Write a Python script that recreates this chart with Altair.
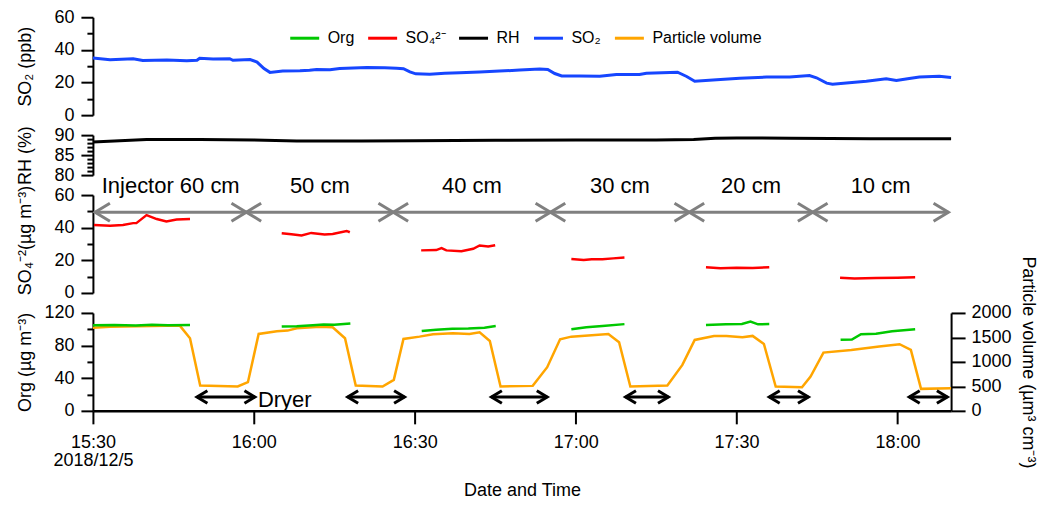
import altair as alt
import pandas as pd

BASE = pd.Timestamp("2018-12-05 15:30:00")

# ---------------- data (time = minutes after 2018/12/5 15:30) ----------------
so2_t = [0, 3.2, 7.5, 9.3, 13.8, 17.5, 19.4, 19.9, 22.4, 25.5, 26.1, 29.3, 30.6, 31.9, 33, 35.4,
         38.6, 40.4, 41.7, 44.2, 46, 51.1, 54.4, 56.6, 57.9, 59.1, 60.2, 62.8, 65.6, 68.4, 72.1,
         75.8, 79.6, 83.3, 84.8, 86.1, 87.4, 90.7, 94.5, 97.6, 101.9, 103.2, 109, 110.7, 112.2,
         116.3, 120.6, 125.6, 129.9, 133.6, 134.9, 136.8, 137.9, 141, 144.2, 147.9, 149.8, 152.2,
         154.1, 157.8, 160]
so2_v = [35, 34, 34.6, 33.5, 33.8, 33.4, 33.6, 34.8, 34.4, 34.6, 33.6, 34.1, 32.5, 28.5, 26.2, 27,
         27.2, 27.5, 28, 27.8, 28.6, 29.2, 29, 28.8, 28.5, 26.5, 25.3, 25, 25.6, 26, 26.5,
         27, 27.6, 28.3, 28, 25.5, 24, 24, 23.8, 24.9, 24.9, 25.7, 26.3, 23.7, 20.8,
         21.7, 22.6, 23.3, 23.3, 24.3, 22.9, 19.6, 19, 19.8, 20.8, 22.3, 21.2, 22.5,
         23.3, 23.9, 23.1]

rh_t = [0, 5, 10, 20, 30, 38, 50, 60, 75, 90, 105, 112, 116, 120, 130, 145, 160]
rh_v = [88.3, 88.6, 88.9, 88.9, 88.8, 88.5, 88.5, 88.6, 88.7, 88.8, 88.8, 88.9, 89.2, 89.3, 89.2, 89.1, 89.1]

so4_t = [[0.2, 3.2, 5.6, 7.5, 8.1, 10, 11.9, 13.7, 15.6, 18.1],
         [35.2, 37, 38.9, 40.7, 43.2, 44.7, 47.3, 47.9],
         [61.2, 64, 65, 65.9, 68.7, 70.9, 72.1, 73.7, 75],
         [89.2, 91.5, 93, 95, 97, 99.1],
         [114.3, 117, 120, 123, 126.1],
         [139.3, 142, 146, 150, 153.3]]
so4_v = [[41.6, 41.2, 41.6, 42.8, 42.8, 47.7, 45.3, 43.8, 45, 45.3],
         [36.6, 36, 35.2, 36.8, 35.8, 36.2, 38, 37.2],
         [26.1, 26.3, 27.5, 26.1, 25.6, 27.1, 29.1, 28.5, 29.3],
         [20.8, 20.2, 20.6, 20.6, 21.2, 21.7],
         [15.7, 15.1, 15.4, 15.3, 15.8],
         [9.3, 8.9, 9.1, 9.3, 9.6]]

org_t = [[0, 4, 8, 11, 14, 18.1],
         [35.2, 38, 41, 43, 45, 48],
         [61.3, 64, 67, 70, 73, 75.1],
         [89.2, 92, 95, 99.1],
         [114.3, 118, 121, 122.6, 124, 126.1],
         [139.4, 141.5, 143.2, 146, 149, 153.3]]
org_v = [[105, 105.3, 104.5, 105.5, 105, 105.3],
         [103.3, 103.8, 105, 105.8, 105.5, 107.2],
         [98, 99.5, 100.5, 101, 102, 104],
         [100, 102.5, 104, 106.3],
         [105.3, 106, 106.5, 109.4, 106, 106.3],
         [87, 87.5, 94, 94.5, 97.5, 100]]

vol_t = [0, 3.2, 16.2, 18.1, 20, 27, 28.9, 30.9, 34.3, 36.3, 38, 42.3, 44.7, 47, 49, 54, 56.1,
         57.9, 60.9, 63.4, 67.1, 70.2, 72.1, 74, 76, 82, 84.7, 87.1, 89.2, 96.1, 98.1, 100.2,
         107.1, 109.9, 112.2, 115.8, 118.1, 121.1, 123, 125.1, 127.3, 132.2, 133.8, 136.2,
         141.4, 146.6, 150.4, 152.5, 154.4, 160]
vol_v = [1700, 1720, 1741, 1483, 517, 497, 585, 1571, 1626, 1639, 1688, 1720, 1707, 1483, 517,
         497, 633, 1469, 1516, 1565, 1585, 1571, 1606, 1428, 497, 510, 892, 1463, 1516, 1571,
         1402, 497, 517, 939, 1449, 1531, 1531, 1504, 1531, 1367, 497, 483, 701, 1190, 1245,
         1313, 1361, 1245, 449, 463]

inj_start = [0.4, 28.6, 56, 85.3, 111.2, 134.2]
inj_end = [28.6, 56, 85.3, 111.2, 134.2, 159.5]
inj_labels = ["Injector 60 cm", "50 cm", "40 cm", "30 cm", "20 cm", "10 cm"]

dry_start = [19.4, 47.5, 74.3, 99.3, 126.1, 152.2]
dry_end = [30.2, 58.1, 84.7, 107.3, 133.4, 159.3]
dry_label = "Dryer"

legend_labels = ["Org", "SO₄²⁻", "RH", "SO₂", "Particle volume"]
legend_colors = ["#00c800", "#ff0000", "#000000", "#1646ff", "#ffa500"]

xtick_minutes = [0, 30, 60, 90, 120, 150]
x_end_minutes = 160

# ---------------- helpers ----------------
FONT = "Liberation Sans"
W = 859


def tm(m):
    return BASE + pd.Timedelta(minutes=float(m))


def dt(m):
    total = 15 * 60 + 30 + int(m)
    return alt.DateTime(year=2018, month=12, date=5, hours=total // 60, minutes=total % 60)


x_scale = alt.Scale(domain=[dt(0), dt(x_end_minutes)])


def X(field="time", axis=None):
    return alt.X(f"{field}:T", scale=x_scale, axis=axis)


def yscale(lo, hi):
    return alt.Scale(domain=[lo, hi], nice=False, zero=False)


def major_axis(vals, title, title_y):
    return alt.Axis(values=vals, title=title, orient="left", tickSize=12, labelPadding=7,
                    titleX=-67, titleY=title_y, titleAngle=270, titleAlign="center",
                    titleBaseline="middle", labelFlush=False, labelOverlap=False, grid=False)


def minor_axis(vals):
    return alt.Axis(values=vals, orient="left", labels=False, domain=False, tickSize=6,
                    title=None, grid=False)


def seg_frame(ts, vs):
    rows = []
    for i, (tt, vv) in enumerate(zip(ts, vs)):
        for t, v in zip(tt, vv):
            rows.append({"time": tm(t), "value": v, "seg": i})
    return pd.DataFrame(rows)


# ---------------- panel 1: SO2 ----------------
so2_df = pd.DataFrame({"time": [tm(t) for t in so2_t], "value": so2_v, "series": legend_labels[3]})
legend = alt.Legend(orient="none", legendX=196, legendY=5, direction="horizontal", title=None,
                    symbolType="stroke", symbolSize=841, symbolStrokeWidth=3, labelFontSize=16,
                    labelFont=FONT, labelColor="black", labelOffset=7, columnPadding=7, padding=0,
                    labelLimit=400)
p1_line = alt.Chart(so2_df).mark_line(strokeWidth=3).encode(
    x=X(),
    y=alt.Y("value:Q", scale=yscale(0, 60), axis=major_axis([0, 20, 40, 60], "SO₂ (ppb)", 49)),
    color=alt.Color("series:N", scale=alt.Scale(domain=legend_labels, range=legend_colors), legend=legend),
)
p1_minor = alt.Chart(so2_df).mark_line(opacity=0).encode(
    x=X(), y=alt.Y("value:Q", scale=yscale(0, 60), axis=minor_axis([10, 30, 50])))
p1 = alt.layer(p1_line, p1_minor).resolve_scale(y="independent").resolve_axis(y="independent").properties(width=W, height=98)

# ---------------- panel 2: RH ----------------
rh_df = pd.DataFrame({"time": [tm(t) for t in rh_t], "value": rh_v})
p2_line = alt.Chart(rh_df).mark_line(strokeWidth=3, color=legend_colors[2]).encode(
    x=X(), y=alt.Y("value:Q", scale=yscale(80, 90), axis=major_axis([80, 85, 90], "RH (%)", 20)))
p2_minor = alt.Chart(rh_df).mark_line(opacity=0).encode(
    x=X(), y=alt.Y("value:Q", scale=yscale(80, 90), axis=minor_axis([81, 82, 83, 84, 86, 87, 88, 89])))
p2 = alt.layer(p2_line, p2_minor).resolve_scale(y="independent").resolve_axis(y="independent").properties(width=W, height=40)

# ---------------- panel 3: SO4 ----------------
ARROW_LEVEL = 49.5
LABEL_LEVEL = 65.5
so4_df = seg_frame(so4_t, so4_v)
inj_df = pd.DataFrame({"start": [tm(t) for t in inj_start], "end": [tm(t) for t in inj_end],
                       "mid": [tm((a + b) / 2) for a, b in zip(inj_start, inj_end)],
                       "label": inj_labels, "lvl": ARROW_LEVEL, "tl": LABEL_LEVEL})
heads_df = pd.DataFrame({"time": [tm(t) for t in inj_start] + [tm(t) for t in inj_end],
                         "dir": ["L"] * len(inj_start) + ["R"] * len(inj_end), "lvl": ARROW_LEVEL})
GRAY = "#808080"
p3_line = alt.Chart(so4_df).mark_line(strokeWidth=2.5, color=legend_colors[1]).encode(
    x=X(), y=alt.Y("value:Q", scale=yscale(0, 60), axis=major_axis([0, 20, 40, 60], "SO₄⁻²(µg m⁻³)", 45)),
    detail="seg:N")
p3_minor = alt.Chart(so4_df).mark_line(opacity=0).encode(
    x=X(), y=alt.Y("value:Q", scale=yscale(0, 60), axis=minor_axis([10, 30, 50])), detail="seg:N")
p3_shaft = alt.Chart(inj_df).mark_rule(strokeWidth=3, color=GRAY).encode(
    x=X("start"), x2="end:T", y=alt.Y("lvl:Q", scale=yscale(0, 60), axis=None))
p3_heads = alt.Chart(heads_df).mark_point(size=324, filled=False, strokeWidth=3, color=GRAY, opacity=1,
                                          strokeJoin="miter").encode(
    x=X(), y=alt.Y("lvl:Q", scale=yscale(0, 60), axis=None),
    shape=alt.Shape("dir:N", scale=alt.Scale(domain=["L", "R"],
                                             range=["M1.65,-1L0,0L1.65,1", "M-1.65,-1L0,0L-1.65,1"]),
                    legend=None))
p3_text = alt.Chart(inj_df).mark_text(font=FONT, fontSize=22, color="black", baseline="middle").encode(
    x=X("mid"), y=alt.Y("tl:Q", scale=yscale(0, 60), axis=None), text="label:N")
p3 = alt.layer(p3_line, p3_minor, p3_shaft, p3_heads, p3_text).resolve_scale(y="independent").resolve_axis(
    y="independent").properties(width=W, height=98)

# ---------------- panel 4: Org + particle volume ----------------
DRY_LEVEL = 17
DRY_TEXT_LEVEL = 13.5
org_df = seg_frame(org_t, org_v)
vol_df = pd.DataFrame({"time": [tm(t) for t in vol_t], "value": vol_v})
dry_df = pd.DataFrame({"time": [tm(t) for t in dry_start], "end": [tm(t) for t in dry_end], "lvl": DRY_LEVEL})
dheads_df = pd.DataFrame({"time": [tm(t) for t in dry_start] + [tm(t) for t in dry_end],
                          "dir": ["L"] * len(dry_start) + ["R"] * len(dry_end), "lvl": DRY_LEVEL})
dtext_df = pd.DataFrame({"time": [tm(dry_end[0])], "label": [dry_label], "lvl": [DRY_TEXT_LEVEL]})

x_axis = alt.Axis(values=[dt(m) for m in xtick_minutes], title="Date and Time", tickSize=13,
                  labelPadding=10, titlePadding=12, domainWidth=2.5, labelFlush=False, labelOverlap=False,
                  labelLineHeight=18, grid=False,
                  labelExpr="timeFormat(datum.value, '%H:%M') == '15:30' ? ['15:30', '2018/12/5'] : timeFormat(datum.value, '%H:%M')")


def X4():
    return alt.X("time:T", scale=x_scale, axis=x_axis)


p4_vol = alt.Chart(vol_df).mark_line(strokeWidth=2.5, color=legend_colors[4]).encode(
    x=X4(),
    y=alt.Y("value:Q", scale=yscale(0, 2000),
            axis=alt.Axis(values=[0, 500, 1000, 1500, 2000], orient="right", tickSize=14, labelPadding=6,
                          format="d",
                          title="Particle volume (µm³ cm⁻³)", titleAngle=90, titleX=76, titleY=49,
                          titleAlign="center", titleBaseline="middle", labelFlush=False,
                          labelOverlap=False, grid=False)))
p4_org = alt.Chart(org_df).mark_line(strokeWidth=2.5, color=legend_colors[0]).encode(
    x=X4(), y=alt.Y("value:Q", scale=yscale(0, 120), axis=major_axis([0, 40, 80, 120], "Org (µg m⁻³)", 49)),
    detail="seg:N")
p4_minor = alt.Chart(org_df).mark_line(opacity=0).encode(
    x=X4(), y=alt.Y("value:Q", scale=yscale(0, 120), axis=minor_axis([20, 60, 100])), detail="seg:N")
p4_shaft = alt.Chart(dry_df).mark_rule(strokeWidth=3, color="black").encode(
    x=X4(), x2="end:T", y=alt.Y("lvl:Q", scale=yscale(0, 120), axis=None))
p4_heads = alt.Chart(dheads_df).mark_point(size=160, filled=False, strokeWidth=3, color="black", opacity=1,
                                           strokeJoin="miter").encode(
    x=X4(), y=alt.Y("lvl:Q", scale=yscale(0, 120), axis=None),
    shape=alt.Shape("dir:N", scale=alt.Scale(domain=["L", "R"],
                                             range=["M1.75,-1L0,0L1.75,1", "M-1.75,-1L0,0L-1.75,1"]),
                    legend=None))
p4_text = alt.Chart(dtext_df).mark_text(font=FONT, fontSize=22, color="black", align="left",
                                        baseline="middle", dx=3).encode(
    x=X4(), y=alt.Y("lvl:Q", scale=yscale(0, 120), axis=None), text="label:N")
p4 = alt.layer(p4_vol, p4_org, p4_minor, p4_shaft, p4_heads, p4_text).resolve_scale(
    y="independent").resolve_axis(y="independent").properties(width=W, height=98)

chart = alt.vconcat(p1, p2, p3, p4, spacing=20, bounds="flush",
                    padding={"left": 8, "top": 0, "right": 5, "bottom": 5}).configure_view(
    stroke=None).configure_axis(
    labelFont=FONT, titleFont=FONT, labelFontSize=18, titleFontSize=18, titleFontWeight="normal",
    labelColor="black", titleColor="black", domainColor="black", tickColor="black",
    domainWidth=2, tickWidth=2, grid=False)

chart.save("out.html", embed_options={"renderer": "svg", "actions": False})
